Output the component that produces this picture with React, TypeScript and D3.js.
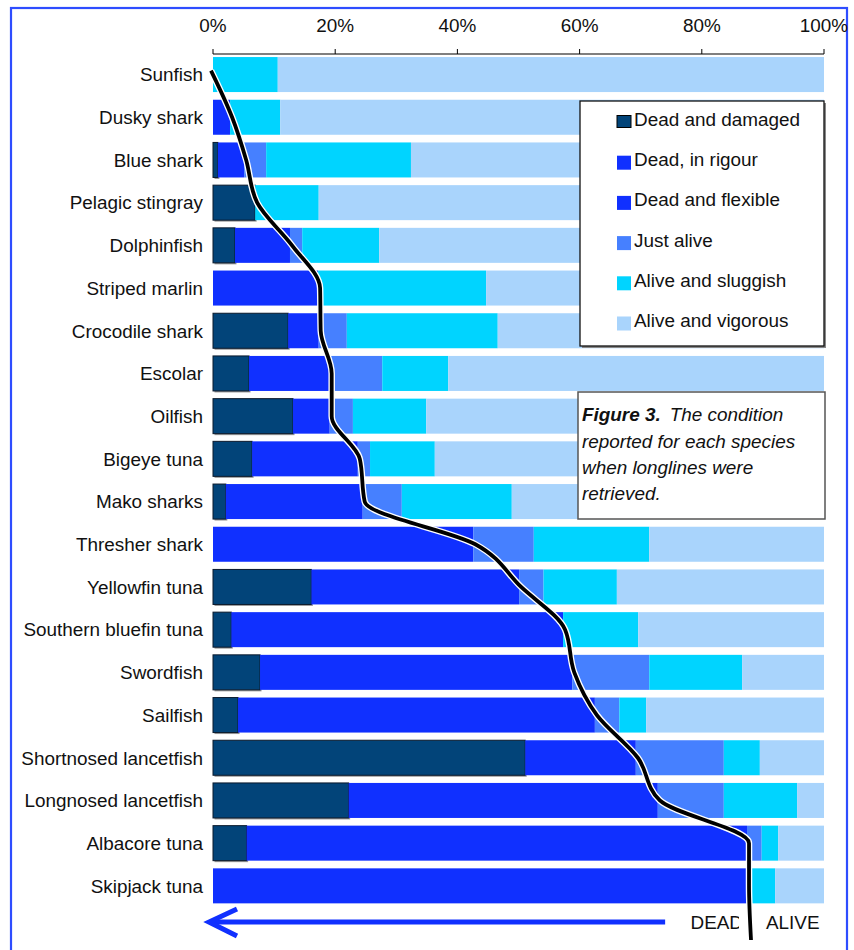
import * as React from 'react'
import * as d3 from 'd3'

const WIDTH = 854
const HEIGHT = 950
const X_LEFT = 213
const X_RIGHT = 824
const BAR_TOP = 53.2
const BAR_STEP = 42.7

const species = [
  'Sunfish',
  'Dusky shark',
  'Blue shark',
  'Pelagic stingray',
  'Dolphinfish',
  'Striped marlin',
  'Crocodile shark',
  'Escolar',
  'Oilfish',
  'Bigeye tuna',
  'Mako sharks',
  'Thresher shark',
  'Yellowfin tuna',
  'Southern bluefin tuna',
  'Swordfish',
  'Sailfish',
  'Shortnosed lancetfish',
  'Longnosed lancetfish',
  'Albacore tuna',
  'Skipjack tuna'
]

// percent of catch in each condition
const deadDamaged = [0, 0, 0.8, 6.9, 3.6, 0, 12.3, 5.9, 13.1, 6.4, 2.1, 0, 16.1, 3.0, 7.7, 4.1, 51.1, 22.2, 5.5, 0]
const deadRigour = [0, 2.8, 4.3, 0, 9.0, 17.2, 5.0, 13.2, 6.0, 17.3, 22.4, 42.6, 34.0, 54.3, 51.1, 58.4, 18.1, 50.6, 81.9, 87.4]
const deadFlexible = [0, 0, 0, 0, 0, 0, 0, 0, 0, 0, 0, 0, 0, 0, 0, 0, 0, 0, 0, 0]
const justAlive = [0, 0, 3.6, 0, 2.0, 0, 4.6, 8.6, 3.8, 2.0, 6.4, 9.9, 4.0, 0, 12.6, 4.0, 14.4, 10.8, 2.4, 0]
const aliveSluggish = [10.6, 8.2, 23.7, 10.4, 12.6, 27.5, 24.7, 10.8, 12.0, 10.6, 18.0, 18.9, 12.0, 12.3, 15.2, 4.4, 5.9, 12.0, 2.7, 4.6]
const aliveVigorous = [89.4, 89.0, 67.6, 82.7, 72.8, 55.3, 53.4, 61.5, 65.1, 63.7, 51.1, 28.6, 33.9, 30.4, 13.4, 29.1, 10.5, 4.4, 7.5, 8.0]

const conditionKeys = ['dd', 'rig', 'flex', 'just', 'slug', 'vig']
const conditionLabels = [
  'Dead and damaged',
  'Dead, in rigour',
  'Dead and flexible',
  'Just alive',
  'Alive and sluggish',
  'Alive and vigorous'
]
const conditionColors = ['#024479', '#1030ff', '#1030ff', '#4680ff', '#00d4ff', '#a9d4fc']

const xTicks = [0, 20, 40, 60, 80, 100]

const captionLines = ['reported for each species', 'when longlines were', 'retrieved.']

const FONT = 'Liberation Sans, Arial, sans-serif'
const FS = 18.9

export default function App() {
  const table = species.map((s, i) => ({
    name: s,
    dd: deadDamaged[i],
    rig: deadRigour[i],
    flex: deadFlexible[i],
    just: justAlive[i],
    slug: aliveSluggish[i],
    vig: aliveVigorous[i]
  }))

  const x = d3.scaleLinear().domain([0, 100]).range([X_LEFT, X_RIGHT])
  const y = d3
    .scaleBand<string>()
    .domain(species)
    .range([BAR_TOP, BAR_TOP + BAR_STEP * species.length])
    .paddingInner(0.18)
    .paddingOuter(0.09)

  const series = d3.stack<any>().keys(conditionKeys)(table)

  // dead / alive boundary for each species
  const boundary = table.map(d => ({
    v: d.dd + d.rig + d.flex,
    cy: (y(d.name) as number) + y.bandwidth() / 2
  }))
  const lastB = boundary[boundary.length - 1]
  const curvePts: [number, number][] = boundary.map(b => [x(b.v) + 2, b.cy])
  curvePts[0] = [x(0) - 2, boundary[0].cy - 4]
  curvePts.push([x(lastB.v) + 4, 940])
  const curve = d3
    .line<[number, number]>()
    .x(d => d[0])
    .y(d => d[1])
    .curve(d3.curveMonotoneY)(curvePts) as string

  const arrowY = 922
  const arrowTip = x(0) - 4
  const divX = x(lastB.v) + 4

  return (
    <div style={{ position: 'absolute', left: 0, top: 0 }}>
      <svg width={WIDTH} height={HEIGHT} style={{ display: 'block', background: '#fff' }}>
        <defs>
          <clipPath id="dead-clip">
            <rect x={0} y={0} width={divX - 12} height={HEIGHT} />
          </clipPath>
        </defs>
        <rect x={11} y={8} width={836} height={1000} fill="none" stroke="#2e4dff" strokeWidth={2.2} />

        {/* top axis */}
        <g fontFamily={FONT} fontSize={FS}>
          <line x1={x(0)} x2={x(100)} y1={54} y2={54} stroke="#000" strokeWidth={1.2} />
          {xTicks.map(t => (
            <g key={t}>
              <line x1={x(t)} x2={x(t)} y1={49} y2={54} stroke="#000" strokeWidth={1} />
              <text x={x(t)} y={32} textAnchor="middle" fill="#111">
                {t + '%'}
              </text>
            </g>
          ))}
        </g>

        {/* bars */}
        {series.map((s, si) => (
          <g key={s.key} fill={conditionColors[si]}>
            {s.map((d, i) => {
              const w = x(d[1]) - x(d[0])
              if (w <= 0) return null
              const yy = y(species[i]) as number
              if (si === 0) {
                return (
                  <g key={i}>
                    <rect x={x(d[0]) + 1.5} y={yy + 1.5} width={w} height={y.bandwidth()} fill="#999" />
                    <rect x={x(d[0])} y={yy} width={w} height={y.bandwidth()} stroke="#0b1a2c" strokeWidth={1} />
                  </g>
                )
              }
              return <rect key={i} x={x(d[0])} y={yy} width={w} height={y.bandwidth()} />
            })}
          </g>
        ))}

        {/* category labels */}
        <g fontFamily={FONT} fontSize={FS} fill="#111" textAnchor="end">
          {species.map(s => (
            <text key={s} x={203} y={(y(s) as number) + y.bandwidth() / 2} dy="0.36em">
              {s}
            </text>
          ))}
        </g>

        {/* dead/alive curve */}
        <path d={curve} fill="none" stroke="#fff" strokeWidth={6.5} />
        <path d={curve} fill="none" stroke="#000" strokeWidth={3.8} />

        {/* legend */}
        <rect x={582} y={103} width={244} height={245} fill="#888" />
        <rect x={580} y={101} width={244} height={245} fill="#fff" stroke="#111" strokeWidth={1.3} />
        <g fontFamily={FONT} fontSize={FS} fill="#111">
          {conditionLabels.map((l, i) => (
            <g key={l}>
              <rect
                x={617}
                y={126 - 10.5 + i * 40.2}
                width={14}
                height={i === 0 ? 12 : 14}
                fill={conditionColors[i]}
                stroke={i === 0 ? '#000' : 'none'}
                strokeWidth={1}
              />
              <text x={634} y={126 + i * 40.2}>
                {l}
              </text>
            </g>
          ))}
        </g>

        {/* caption */}
        <rect x={578} y={392} width={247} height={127} fill="#fff" stroke="#555" strokeWidth={1.5} />
        <g fontFamily={FONT} fontSize={FS} fill="#111" fontStyle="italic">
          <text x={582} y={421}>
            <tspan fontWeight="bold">Figure 3.</tspan>
            <tspan dx={9}>The condition</tspan>
          </text>
          {captionLines.map((l, i) => (
            <text key={l} x={582} y={447.5 + i * 26.3}>
              {l}
            </text>
          ))}
        </g>

        {/* bottom arrow and labels */}
        <g stroke="#1030ff" strokeWidth={5} fill="none" strokeLinecap="butt">
          <line x1={arrowTip + 2} x2={x(74)} y1={arrowY} y2={arrowY} />
          <polyline points={`${arrowTip + 28},${arrowY - 13} ${arrowTip},${arrowY} ${arrowTip + 28},${arrowY + 14}`} />
        </g>
        <g fontFamily={FONT} fontSize={FS} fill="#111">
          <text x={divX - 8} y={929} textAnchor="end" clipPath="url(#dead-clip)">
            DEAD
          </text>
          <text x={divX + 15} y={929}>
            ALIVE
          </text>
        </g>
      </svg>
    </div>
  )
}
